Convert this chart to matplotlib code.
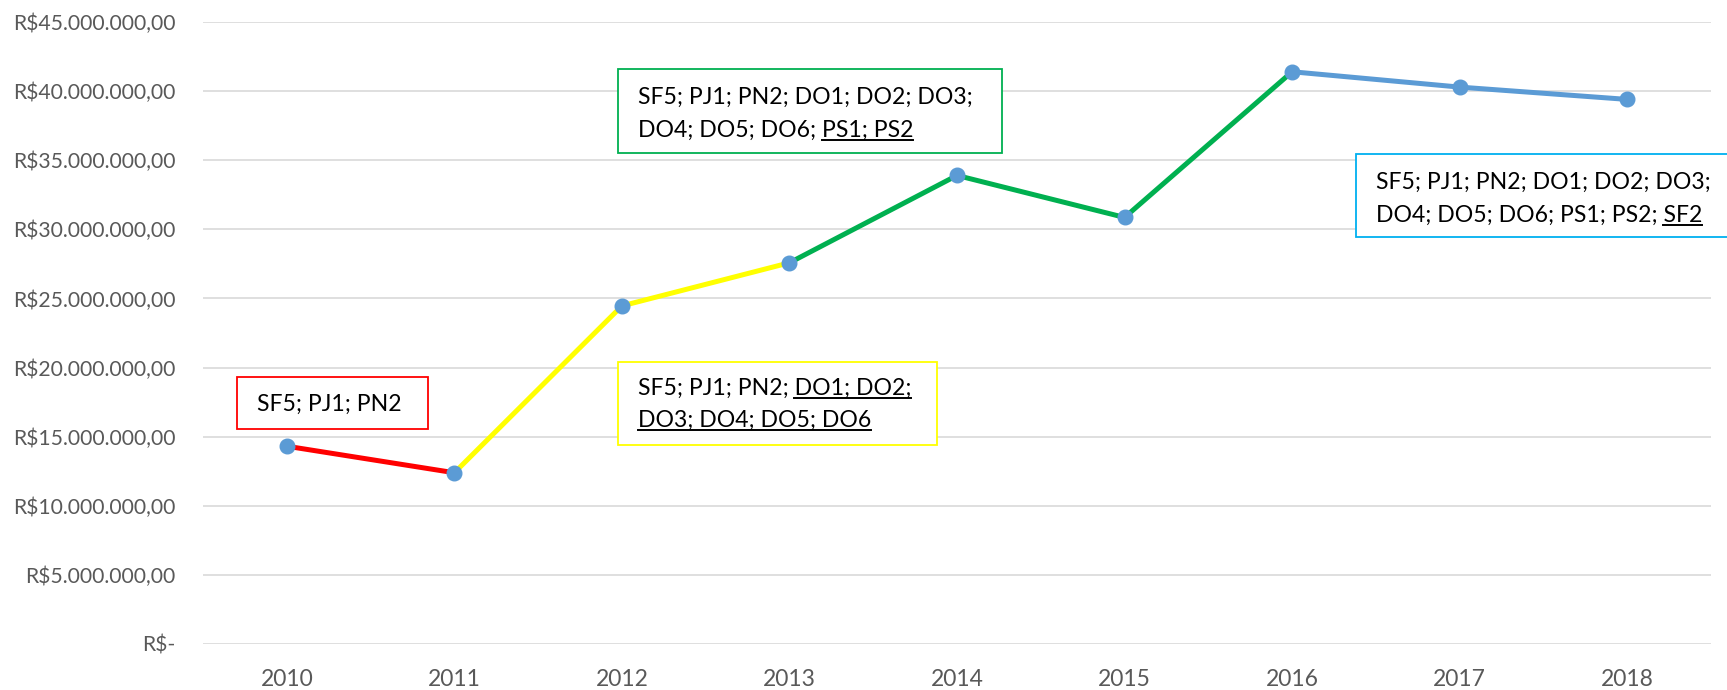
import matplotlib
matplotlib.use("Agg")
import matplotlib.pyplot as plt
from matplotlib.patches import Rectangle

years = ["2010", "2011", "2012", "2013", "2014", "2015", "2016", "2017", "2018"]
values = [14.31e6, 12.39e6, 24.46e6, 27.58e6, 33.90e6, 30.86e6, 41.40e6, 40.29e6, 39.40e6]
# segments: (start index, end index, colour)
segments = [(0, 1, "#FF0000"), (1, 3, "#FFFF00"), (3, 6, "#00B050"), (6, 8, "#5B9BD5")]
yticks = [0, 5e6, 10e6, 15e6, 20e6, 25e6, 30e6, 35e6, 40e6, 45e6]

# annotation boxes: lines as list of (plain, underlined), edge colour
notes = [
    {"lines": [("SF5; PJ1; PN2", "")], "color": "#FF0000",
     "box": (-0.297, 15.56e6, 1.139, 3.76e6), "tx": -0.18, "ty": [17.35e6]},
    {"lines": [("SF5; PJ1; PN2; DO1; DO2; DO3;", ""), ("DO4; DO5; DO6; ", "PS1; PS2")], "color": "#00B050",
     "box": (1.976, 35.53e6, 2.291, 6.07e6), "tx": 2.095, "ty": [39.55e6, 37.15e6]},
    {"lines": [("SF5; PJ1; PN2; ", "DO1; DO2;"), ("", "DO3; DO4; DO5; DO6")], "color": "#FFFF00",
     "box": (1.976, 14.40e6, 1.904, 6.0e6), "tx": 2.095, "ty": [18.5e6, 16.2e6]},
    {"lines": [("SF5; PJ1; PN2; DO1; DO2; DO3;", ""), ("DO4; DO5; DO6; PS1; PS2; ", "SF2")], "color": "#00B0F0",
     "box": (6.38, 29.45e6, 2.6, 6.0e6), "tx": 6.50, "ty": [33.4e6, 31.0e6]},
]

FONT = "Lato"
plt.rcParams["font.family"] = [FONT, "DejaVu Sans"]

fig = plt.figure(figsize=(17.27, 6.90), dpi=100)
ax = fig.add_axes([203 / 1727, 46 / 690, (1711 - 203) / 1727, (644 - 22) / 690])

x = list(range(len(years)))
for s, e, c in segments:
    ax.plot(x[s:e + 1], values[s:e + 1], color=c, lw=3.6, solid_capstyle="butt", zorder=3)
ax.plot(x, values, linestyle="none", marker="o", ms=10.5, color="#5B9BD5", zorder=4)

ax.set_xlim(-0.5, len(years) - 0.5)
ax.set_ylim(0, 45e6)
ax.set_yticks(yticks)


def brl(v):
    if v == 0:
        return "R$-"
    s = f"{v:,.2f}"
    s = s.replace(",", "X").replace(".", ",").replace("X", ".")
    return "R$" + s


ax.set_yticklabels([brl(v) for v in yticks])
ax.set_xticks(x)
ax.set_xticklabels(years)
ax.tick_params(axis="both", length=0, labelcolor="#595959")
ax.tick_params(axis="y", pad=20, labelsize=15.2)
ax.tick_params(axis="x", pad=18, labelsize=16.5)
ax.grid(axis="y", color="#D9D9D9", lw=1.2)
ax.set_axisbelow(True)
for sp in ax.spines.values():
    sp.set_visible(False)

fig.canvas.draw()
renderer = fig.canvas.get_renderer()
fs = 16.6
inv = ax.transData.inverted()
for n in notes:
    bx, by, bw, bh = n["box"]
    ax.add_patch(Rectangle((bx, by), bw, bh, fill=True, facecolor="white", edgecolor=n["color"],
                           lw=1.3, zorder=5, clip_on=False))
    for (plain, under), ty in zip(n["lines"], n["ty"]):
        full = plain + under
        t = ax.text(n["tx"], ty, full, fontsize=fs, color="black", va="center", ha="left",
                    zorder=6, clip_on=False)
        if under:
            bb_full = t.get_window_extent(renderer)
            tu = ax.text(n["tx"], ty, under, fontsize=fs, va="center", ha="left")
            bb_u = tu.get_window_extent(renderer)
            tu.remove()
            x1 = bb_full.x1
            x0 = x1 - bb_u.width
            yline = bb_full.y0 + 1
            (dx0, dy), (dx1, _) = inv.transform([(x0, yline), (x1, yline)])
            ax.plot([dx0, dx1], [dy, dy], color="black", lw=1.4, zorder=6, clip_on=False)

fig.savefig("out.png", dpi=100)
